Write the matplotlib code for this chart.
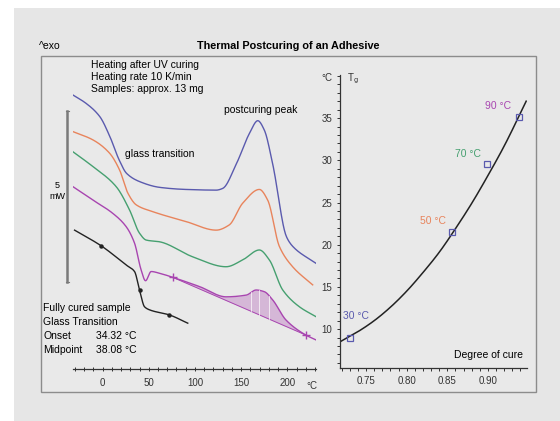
import numpy as np
import matplotlib.pyplot as plt
from matplotlib.patches import Rectangle
from matplotlib.ticker import MultipleLocator, FixedLocator

plt.rcParams['font.family'] = ['Liberation Sans', 'DejaVu Sans']

# DSC curves (temperature in degC, heat flow in mW with arbitrary offsets)
blue_t = [-32, -18, -3, 8, 18, 26, 40, 62, 90, 123, 130, 145, 159, 168, 175, 184, 199, 206, 231]
blue_y = [8.01, 7.77, 7.38, 6.79, 6.11, 5.72, 5.48, 5.31, 5.25, 5.23, 5.28, 6.01, 6.89, 7.26, 6.99, 6.01, 3.87, 3.58, 3.09]

orange_t = [-32, -10.5, 7.6, 18.4, 27.4, 36.4, 54.4, 90.5, 123, 137, 151.7, 169.7, 178.7, 191.4, 205.7, 227.4]
orange_y = [6.94, 6.70, 6.31, 5.82, 5.14, 4.80, 4.60, 4.31, 4.06, 4.21, 4.85, 5.25, 4.94, 3.58, 2.99, 2.46]

green_t = [-32, -10.5, 14.8, 29.2, 40, 47.2, 61.6, 97.6, 133.7, 151.7, 169.7, 180.5, 195, 213, 231]
green_y = [6.35, 5.92, 5.33, 4.65, 3.97, 3.77, 3.72, 3.28, 2.99, 3.19, 3.48, 3.19, 2.31, 1.82, 1.53]

purple_t = [-32, -10.5, 11.1, 25.6, 34.6, 41.8, 46.5, 52.6, 61.6, 76, 104.9, 133.7, 155.4, 166.2, 175.1, 184.1, 198.6, 220.2, 231]
purple_y = [5.33, 4.94, 4.55, 4.16, 3.68, 2.89, 2.58, 2.85, 2.80, 2.68, 2.41, 2.11, 2.16, 2.31, 2.26, 2.02, 1.43, 0.99, 0.85]

# postcuring peak integration limits
base_t = [76, 220.2]
base_y = [2.68, 0.99]

cured_t = [-30.3, -1.4, 25.6, 34.6, 40, 45.4, 50.8, 72.4, 92.2]
cured_y = [4.06, 3.60, 3.04, 2.85, 2.31, 1.82, 1.73, 1.58, 1.34]
cured_mark_t = [-1.4, 40, 72.4]
cured_mark_y = [3.60, 2.31, 1.58]

# Tg vs degree of cure
cure_x = [0.730, 0.856, 0.899, 0.938]
tg_y = [8.9, 21.5, 29.6, 35.1]
cure_labels = ['30 °C', '50 °C', '70 °C', '90 °C']

fit_x = [0.718, 0.74, 0.76, 0.78, 0.80, 0.82, 0.84, 0.86, 0.88, 0.90, 0.92, 0.947]
fit_y = [8.5, 9.7, 11.0, 12.6, 14.5, 16.7, 19.1, 21.9, 24.9, 28.2, 31.7, 37.0]

c_blue = '#5a5aae'
c_orange = '#e8845c'
c_green = '#46a070'
c_purple = '#a845b0'

FS = 7.5
TFS = 7


def smooth(x, y, n=400):
    # monotone cubic (Fritsch-Carlson) through the read points, for drawing only
    x = np.asarray(x, float)
    y = np.asarray(y, float)
    h = np.diff(x)
    d = np.diff(y) / h
    m = np.zeros_like(y)
    m[0], m[-1] = d[0], d[-1]
    for k in range(1, len(x) - 1):
        if d[k - 1] * d[k] > 0:
            w1 = 2 * h[k] + h[k - 1]
            w2 = h[k] + 2 * h[k - 1]
            m[k] = (w1 + w2) / (w1 / d[k - 1] + w2 / d[k])
    xs = np.linspace(x[0], x[-1], n)
    i = np.clip(np.searchsorted(x, xs) - 1, 0, len(x) - 2)
    t = (xs - x[i]) / h[i]
    h00 = 2 * t**3 - 3 * t**2 + 1
    h10 = t**3 - 2 * t**2 + t
    h01 = -2 * t**3 + 3 * t**2
    h11 = t**3 - t**2
    ys = h00 * y[i] + h10 * h[i] * m[i] + h01 * y[i + 1] + h11 * h[i] * m[i + 1]
    return xs, ys


W, H = 560, 421
fig = plt.figure(figsize=(W / 100, H / 100), dpi=100)
fig.patch.set_facecolor('white')


def px(x, y):
    return x / W, 1 - y / H


fig.patches.append(Rectangle((14 / W, 0), 1 - 14 / W, 1 - 8 / H, transform=fig.transFigure,
                             facecolor='#e6e6e6', edgecolor='none', zorder=-10))
fig.patches.append(Rectangle(px(41, 392), 495 / W, 336 / H, transform=fig.transFigure,
                             facecolor='#e9e9e9', edgecolor='#8c8c8c', lw=1.0, zorder=-5))

fig.text(*px(39, 49), '^exo', fontsize=FS, ha='left', va='baseline')
fig.text(*px(288, 49), 'Thermal Postcuring of an Adhesive', fontsize=7.8, fontweight='bold',
         ha='center', va='baseline')

# ---- left: DSC curves ----
ax = fig.add_axes([73 / W, 52 / H, 243 / W, 289 / H])
ax.set_facecolor('none')
ax.set_xlim(-32, 231)
ax.set_ylim(0, 8.45)
for s in ['left', 'right', 'top']:
    ax.spines[s].set_visible(False)
ax.spines['bottom'].set_color('#333333')
ax.spines['bottom'].set_linewidth(0.9)
ax.set_yticks([])
ax.xaxis.set_major_locator(FixedLocator([0, 50, 100, 150, 200]))
ax.xaxis.set_minor_locator(MultipleLocator(10))
ax.tick_params(axis='x', which='both', direction='inout', length=3, width=0.7,
               labelsize=TFS, pad=5, colors='#333333')
ax.text(227, -0.5, '°C', fontsize=TFS, ha='center', va='center', color='#333333', clip_on=False)

ax.plot(*smooth(blue_t, blue_y), color=c_blue, lw=1.0)
ax.plot(*smooth(orange_t, orange_y), color=c_orange, lw=1.0)
ax.plot(*smooth(green_t, green_y), color=c_green, lw=1.0)
pt, py = smooth(purple_t, purple_y)
ax.plot(pt, py, color=c_purple, lw=1.0)
ax.plot(base_t, base_y, color=c_purple, lw=0.7)
ax.plot(base_t, base_y, '+', color=c_purple, ms=6, mew=1.0)

tt = np.linspace(base_t[0], base_t[1], 300)
cy = np.interp(tt, pt, py)
by = np.interp(tt, base_t, base_y)
ax.fill_between(tt, by, cy, where=cy > by, color=c_purple, alpha=0.3, lw=0)
for tv in [160.7, 169.7, 180.5]:
    ax.plot([tv, tv], [np.interp(tv, base_t, base_y), np.interp(tv, pt, py)],
            color='white', lw=0.6, alpha=0.8)

ax.plot(*smooth(cured_t, cured_y), color='#222222', lw=1.0)
ax.plot(cured_mark_t, cured_mark_y, 'o', color='#222222', ms=2.2)

# 5 mW scale bar
ax.plot([-38, -38], [2.55, 7.55], color='#7a7a7a', lw=1.8, clip_on=False)
ax.plot([-40, -36], [2.55, 2.55], color='#7a7a7a', lw=0.8, clip_on=False)
ax.plot([-40, -36], [7.55, 7.55], color='#7a7a7a', lw=0.8, clip_on=False)
ax.text(-49, 5.2, '5\nmW', fontsize=6.5, ha='center', va='center', linespacing=1.2, clip_on=False)

# annotations
fig.text(*px(91, 68), 'Heating after UV curing', fontsize=FS, va='baseline')
fig.text(*px(91, 80), 'Heating rate 10 K/min', fontsize=FS, va='baseline')
fig.text(*px(91, 92), 'Samples: approx. 13 mg', fontsize=FS, va='baseline')
fig.text(*px(125, 157), 'glass transition', fontsize=FS, va='baseline')
fig.text(*px(224, 113), 'postcuring peak', fontsize=FS, va='baseline')
fig.text(*px(43, 311), 'Fully cured sample', fontsize=FS, va='baseline')
fig.text(*px(43, 325), 'Glass Transition', fontsize=FS, va='baseline')
fig.text(*px(43, 339), 'Onset', fontsize=FS, va='baseline')
fig.text(*px(96, 339), '34.32 °C', fontsize=FS, va='baseline')
fig.text(*px(43, 353), 'Midpoint', fontsize=FS, va='baseline')
fig.text(*px(96, 353), '38.08 °C', fontsize=FS, va='baseline')

# ---- right: Tg vs degree of cure ----
ax2 = fig.add_axes([340 / W, 53 / H, 187 / W, 293 / H])
ax2.set_facecolor('none')
ax2.set_xlim(0.718, 0.948)
ax2.set_ylim(5.4, 40.1)
for s in ['right', 'top']:
    ax2.spines[s].set_visible(False)
for s in ['left', 'bottom']:
    ax2.spines[s].set_color('#333333')
    ax2.spines[s].set_linewidth(0.9)
ax2.xaxis.set_major_locator(FixedLocator([0.75, 0.80, 0.85, 0.90]))
ax2.xaxis.set_major_formatter(plt.FuncFormatter(lambda v, p: f'{v:.2f}'))
ax2.xaxis.set_minor_locator(MultipleLocator(0.01))
ax2.yaxis.set_major_locator(FixedLocator([10, 15, 20, 25, 30, 35]))
ax2.yaxis.set_minor_locator(MultipleLocator(1))
ax2.tick_params(which='both', direction='out', length=2.5, width=0.7, labelsize=TFS,
                pad=3, colors='#333333')

ax2.plot(*smooth(fit_x, fit_y), color='#222222', lw=1.1)
ax2.plot(cure_x, tg_y, 's', mfc='none', mec=c_blue, ms=4, mew=0.9)
label_colors = [c_blue, c_orange, c_green, c_purple]
label_off = [(0.008, 2.6), (-0.024, 1.3), (-0.024, 1.2), (-0.026, 1.3)]
for xv, yv, lab, col, (dx, dy) in zip(cure_x, tg_y, cure_labels, label_colors, label_off):
    ax2.text(xv + dx, yv + dy, lab, fontsize=FS, color=col, ha='center', va='center')

fig.text(*px(327, 81), '°C', fontsize=TFS, ha='center', va='baseline', color='#333333')
fig.text(*px(347, 81), 'T$_\\mathrm{g}$', fontsize=TFS, ha='left', va='baseline', color='#333333')
fig.text(*px(523, 358), 'Degree of cure', fontsize=FS, ha='right', va='baseline')

fig.savefig('out.png', dpi=100)
